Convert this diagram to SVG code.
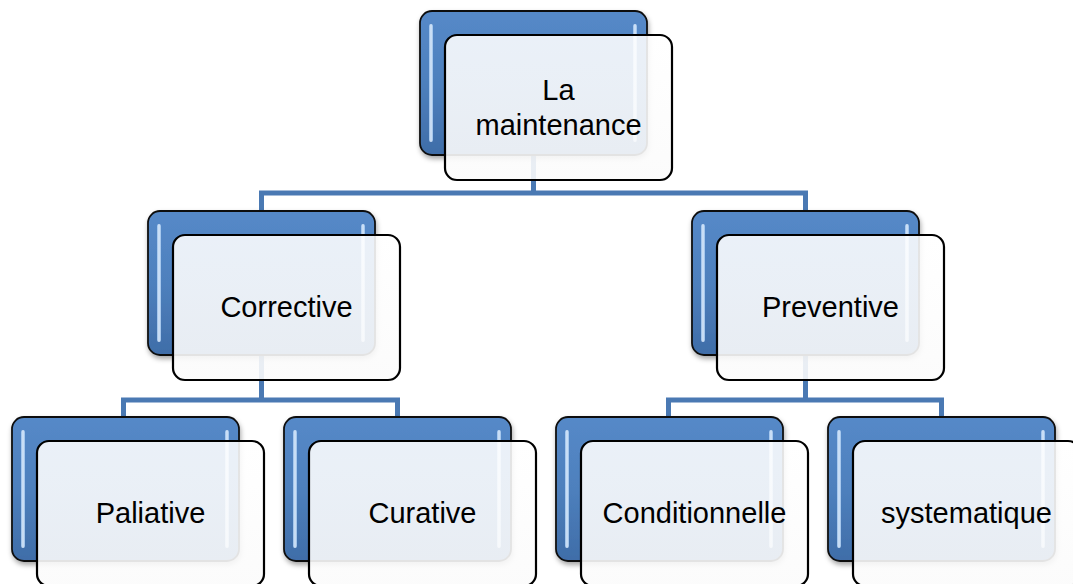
<svg xmlns="http://www.w3.org/2000/svg" width="1073" height="584" viewBox="0 0 1073 584">
<defs>
<linearGradient id="backGrad" x1="0" y1="0" x2="0" y2="1">
<stop offset="0" stop-color="#5589c8"/>
<stop offset="0.5" stop-color="#4e80bd"/>
<stop offset="1" stop-color="#3f6da8"/>
</linearGradient>
<linearGradient id="stripGrad" x1="0" y1="0" x2="1" y2="0">
<stop offset="0" stop-color="#9cc3ee"/>
<stop offset="0.5" stop-color="#eaf4ff"/>
<stop offset="1" stop-color="#9cc3ee"/>
</linearGradient>
<linearGradient id="frontGrad" x1="0" y1="0" x2="0" y2="1">
<stop offset="0" stop-color="#ffffff" stop-opacity="0.88"/>
<stop offset="1" stop-color="#fbfbfb" stop-opacity="0.9"/>
</linearGradient>
<filter id="shadow" x="-10%" y="-10%" width="125%" height="130%">
<feDropShadow dx="1" dy="3" stdDeviation="2.5" flood-color="#000" flood-opacity="0.35"/>
</filter>
</defs>
<style>
.back{fill:url(#backGrad);stroke:#111;stroke-width:1.8;filter:url(#shadow)}
.strip{fill:url(#stripGrad);opacity:0.9}
.front{fill:url(#frontGrad);stroke:#000;stroke-width:2.2}
.lbl{font-family:"Liberation Sans",Arial,sans-serif;font-size:29px;fill:#000;text-anchor:middle}
.conn{fill:none;stroke:#4a79b3;stroke-width:5}
</style>
<rect width="1073" height="584" fill="#ffffff"/>
<g id="connectors">
<path class="conn" d="M533.5,150 V193"/>
<path class="conn" d="M261.5,213 V193 H805.5 V213"/>
<path class="conn" d="M261.5,350 V400"/>
<path class="conn" d="M123.5,419 V400 H397.5 V419"/>
<path class="conn" d="M805.5,350 V400"/>
<path class="conn" d="M668.5,419 V400 H941.5 V419"/>
</g>
<g id="node-maintenance">
<rect class="back" x="420" y="11" width="227" height="144" rx="12"/>
<rect class="strip" x="429" y="24" width="4" height="118" rx="2"/>
<rect class="strip" x="633" y="24" width="4" height="118" rx="2"/>
<rect class="front" x="445" y="35" width="227" height="145" rx="12"/>
<text class="lbl" x="558.5" y="100">La</text>
<text class="lbl" x="558.5" y="135">maintenance</text>
</g>
<g id="node-corrective">
<rect class="back" x="148" y="211" width="227" height="144" rx="12"/>
<rect class="strip" x="157" y="224" width="4" height="118" rx="2"/>
<rect class="strip" x="361" y="224" width="4" height="118" rx="2"/>
<rect class="front" x="173" y="235" width="227" height="145" rx="12"/>
<text class="lbl" x="286.5" y="317">Corrective</text>
</g>
<g id="node-preventive">
<rect class="back" x="692" y="211" width="227" height="144" rx="12"/>
<rect class="strip" x="701" y="224" width="4" height="118" rx="2"/>
<rect class="strip" x="905" y="224" width="4" height="118" rx="2"/>
<rect class="front" x="717" y="235" width="227" height="145" rx="12"/>
<text class="lbl" x="830.5" y="317">Preventive</text>
</g>
<g id="node-paliative">
<rect class="back" x="12" y="417" width="227" height="144" rx="12"/>
<rect class="strip" x="21" y="430" width="4" height="118" rx="2"/>
<rect class="strip" x="225" y="430" width="4" height="118" rx="2"/>
<rect class="front" x="37" y="441" width="227" height="145" rx="12"/>
<text class="lbl" x="150.5" y="523">Paliative</text>
</g>
<g id="node-curative">
<rect class="back" x="284" y="417" width="227" height="144" rx="12"/>
<rect class="strip" x="293" y="430" width="4" height="118" rx="2"/>
<rect class="strip" x="497" y="430" width="4" height="118" rx="2"/>
<rect class="front" x="309" y="441" width="227" height="145" rx="12"/>
<text class="lbl" x="422.5" y="523">Curative</text>
</g>
<g id="node-conditionnelle">
<rect class="back" x="556" y="417" width="227" height="144" rx="12"/>
<rect class="strip" x="565" y="430" width="4" height="118" rx="2"/>
<rect class="strip" x="769" y="430" width="4" height="118" rx="2"/>
<rect class="front" x="581" y="441" width="227" height="145" rx="12"/>
<text class="lbl" x="694.5" y="523">Conditionnelle</text>
</g>
<g id="node-systematique">
<rect class="back" x="828" y="417" width="227" height="144" rx="12"/>
<rect class="strip" x="837" y="430" width="4" height="118" rx="2"/>
<rect class="strip" x="1041" y="430" width="4" height="118" rx="2"/>
<rect class="front" x="853" y="441" width="227" height="145" rx="12"/>
<text class="lbl" x="966.5" y="523">systematique</text>
</g>
</svg>
